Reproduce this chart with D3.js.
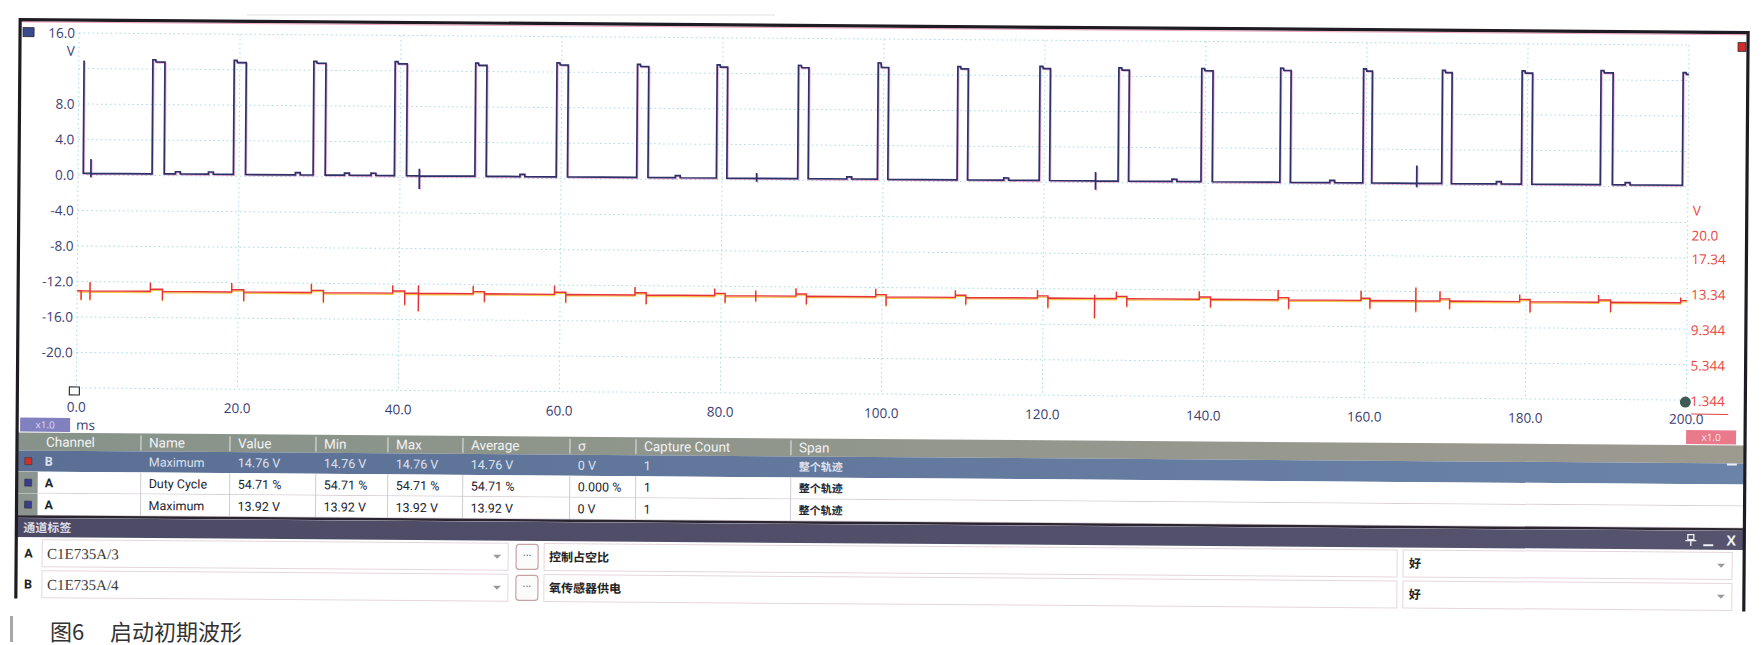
<!DOCTYPE html>
<html><head><meta charset="utf-8">
<script src="https://cdn.jsdelivr.net/npm/d3@7"></script>
<style>body{margin:0;background:#fff}svg{display:block}</style>
</head><body>
<svg id="c" width="1761" height="645"></svg>
<script>
// ---------------- data ----------------
const xTicks = [0,20,40,60,80,100,120,140,160,180,200];
const xTickLabels = ["0.0","20.0","40.0","60.0","80.0","100.0","120.0","140.0","160.0","180.0","200.0"];
const yGridA = [16,12,8,4,0,-4,-8,-12,-16,-20,-24];
const yLabelsA = [16,8,4,0,-4,-8,-12,-16,-20];
const yLabelsATxt = ["16.0","8.0","4.0","0.0","-4.0","-8.0","-12.0","-16.0","-20.0"];
const yLabelsB = [20.0,17.34,13.34,9.344,5.344,1.344];
const yLabelsBTxt = ["20.0","17.34","13.34","9.344","5.344","1.344"];

// channel A (control duty cycle), ms / V
const aStart = 0.55, aFirstFall = 0.65, aEnd = 200;
const lowA = 0.2;
const riseA = [9.2,19.3,29.2,39.3,49.3,59.4,69.4,79.3,89.4,99.3,109.2,119.4,129.2,139.5,149.3,159.6,169.4,179.3,189.1,199.3];
const fallA = [10.7,20.8,30.7,40.8,50.7,60.8,70.8,80.6,90.7,100.6,110.5,120.7,130.5,140.9,150.6,160.7,170.6,180.6,190.6];
const highA = [12.8,12.8,12.8,12.8,12.7,12.8,12.7,12.7,12.7,12.8,12.7,12.8,12.7,12.7,12.8,12.8,12.7,12.7,12.8,12.7];
const peakA = [13.05,13.05,13.0,13.05,12.95,13.05,12.95,12.95,12.95,13.3,12.95,13.05,12.95,12.95,13.05,13.05,12.95,12.95,13.05,12.9];
const glitchTA = [1.6,42.4,84.3,126.4,166.3];
const glitchUpA = [1.6,0.8,0.6,1.0,2.0];
const glitchDnA = [-0.45,-1.5,-0.4,-1.0,-0.45];
const bumpTA = [12.4,16.5,27.3,33.4,36.7,55.2,74.5,95.8,115.3,136.2,155.8,176.5,192.5];

// channel B (sensor supply), ms / V
const baseB = 12.3;
const plateauB = 0.25;
const riseSpikeB = [1.0,1.0,1.0,0.9,0.9,1.0,0.9,0.8,0.9,0.9,0.8,0.9,0.8,0.9,1.1,1.1,1.1,0.8,0.8,0.6];
const fallSpikeB = [-1.0,-1.0,-1.1,-1.3,-0.9,-0.9,-1.0,-0.8,-0.9,-1.0,-0.8,-1.1,-0.9,-0.9,-1.0,-0.9,-0.9,-1.2,-1.1];
const glitchTB = [0.5,1.6,42.4,84.3,126.4,166.3];
const glitchUpB = [0.0,1.0,0.9,0.6,0.4,1.5];
const glitchDnB = [-1.0,-1.0,-2.0,-0.6,-2.2,-1.2];

// measurement table
const tableCols = ["Channel","Name","Value","Min","Max","Average","σ","Capture Count","Span"];
const tableRows = [
  ["B","Maximum","14.76 V","14.76 V","14.76 V","14.76 V","0 V","1","整个轨迹"],
  ["A","Duty Cycle","54.71 %","54.71 %","54.71 %","54.71 %","0.000 %","1","整个轨迹"],
  ["A","Maximum","13.92 V","13.92 V","13.92 V","13.92 V","0 V","1","整个轨迹"]
];
const rowChannelColor = ["#d0302c","#3a3c8c","#3a3c8c"];
const panelTitle = "通道标签";
const chanLetters = ["A","B"];
const chanIds = ["C1E735A/3","C1E735A/4"];
const chanDesc = ["控制占空比","氧传感器供电"];
const chanQuality = ["好","好"];
const caption1 = "图6", caption2 = "启动初期波形";

// ---------------- drawing ----------------
const svg = d3.select("#c");
const g = svg.append("g").attr("transform","rotate(0.43,78,175)");
const x = d3.scaleLinear().domain([0,200]).range([78,1688]);
const yA = d3.scaleLinear().domain([-24,16]).range([388,33]);
const yB = d3.scaleLinear().domain([1.344,20]).range([yA(-24),yA(-5.344)]);
const navy = "#3b3d72";
const numFont = "'Open Sans', 'Noto Sans', sans-serif";

// faint line above frame
svg.append("line").attr("x1",247).attr("x2",775).attr("y1",15).attr("y2",15).attr("stroke","#e2dfe6").attr("stroke-width",1);

// grid
g.append("g").selectAll("line").data(yGridA).join("line")
  .attr("x1",x(0)).attr("x2",x(200)).attr("y1",d=>yA(d)).attr("y2",d=>yA(d))
  .attr("stroke","#a6dbe0").attr("stroke-width",1).attr("stroke-dasharray","1.5,3");
g.append("g").selectAll("line").data(xTicks).join("line")
  .attr("x1",d=>x(d)).attr("x2",d=>x(d)).attr("y1",yA(16)).attr("y2",yA(-24))
  .attr("stroke","#a6dbe0").attr("stroke-width",1).attr("stroke-dasharray","1.5,3");

// left axis labels
g.append("g").selectAll("text").data(yLabelsA).join("text")
  .attr("x",74).attr("y",d=>yA(d)).attr("dy","0.36em").attr("text-anchor","end")
  .attr("font-family",numFont).attr("font-size",13.5).attr("fill",navy)
  .text((d,i)=>yLabelsATxt[i]);
g.append("text").attr("x",74).attr("y",yA(16)+18).attr("dy","0.36em").attr("text-anchor","end")
  .attr("font-family",numFont).attr("font-size",13.5).attr("fill",navy).text("V");

// right axis labels (channel B)
g.append("g").selectAll("text").data(yLabelsB).join("text")
  .attr("x",1692).attr("y",d=>yB(d)+1).attr("dy","0.36em")
  .attr("font-family",numFont).attr("font-size",13.5).attr("fill","#e8463e")
  .text((d,i)=>yLabelsBTxt[i]);
g.append("text").attr("x",1693).attr("y",yB(20)-24).attr("dy","0.36em")
  .attr("font-family",numFont).attr("font-size",13.5).attr("fill","#e8463e").text("V");

// x labels
g.append("g").selectAll("text").data(xTicks).join("text")
  .attr("x",d=>x(d)).attr("y",407).attr("dy","0.36em").attr("text-anchor","middle")
  .attr("font-family",numFont).attr("font-size",13.5).attr("fill",navy)
  .text((d,i)=>xTickLabels[i]);

// ----- channel A trace -----
const featA = [];
riseA.forEach((t,i)=>featA.push({t, k:"p", i}));
glitchTA.forEach((t,j)=>featA.push({t, k:"g", j}));
bumpTA.forEach((t,j)=>featA.push({t, k:"b", j}));
featA.sort((a,b)=>a.t-b.t);
const ptsA = [[aStart,highA[0]],[aFirstFall,highA[0]],[aFirstFall,lowA]];
featA.forEach(f=>{
  if (f.k==="g") {
    ptsA.push([f.t,lowA],[f.t,lowA+glitchUpA[f.j]],[f.t,lowA+glitchDnA[f.j]],[f.t,lowA]);
  } else if (f.k==="b") {
    ptsA.push([f.t-0.3,lowA],[f.t-0.3,lowA+0.25],[f.t+0.3,lowA+0.25],[f.t+0.3,lowA]);
  } else {
    const i=f.i, r=riseA[i];
    ptsA.push([r,lowA],[r,peakA[i]],[r+0.35,peakA[i]],[r+0.4,highA[i]]);
    if (i<fallA.length) ptsA.push([fallA[i],highA[i]],[fallA[i],lowA]);
    else ptsA.push([aEnd,highA[i]]);
  }
});
const lineA = d3.line().x(d=>x(d[0])).y(d=>yA(d[1]));
g.append("path").attr("d",lineA(ptsA)).attr("fill","none").attr("stroke","#d65aa8")
  .attr("stroke-width",1.4).attr("opacity",0.45).attr("transform","translate(1,1)");
g.append("path").attr("d",lineA(ptsA)).attr("fill","none").attr("stroke","#2e3068").attr("stroke-width",1.7);

// ----- channel B trace -----
const featB = [];
riseA.forEach((t,i)=>featB.push({t:t-0.1, k:"p", i}));
glitchTB.forEach((t,j)=>featB.push({t, k:"g", j}));
featB.sort((a,b)=>a.t-b.t);
const ptsB = [[0,baseB]];
featB.forEach(f=>{
  if (f.k==="g") {
    ptsB.push([f.t,baseB],[f.t,baseB+glitchUpB[f.j]],[f.t,baseB+glitchDnB[f.j]],[f.t,baseB]);
  } else {
    const i=f.i, r=f.t;
    ptsB.push([r,baseB],[r,baseB+riseSpikeB[i]],[r,baseB+plateauB]);
    if (i<fallSpikeB.length) {
      const tf=fallA[i]-0.1;
      ptsB.push([tf,baseB+plateauB],[tf,baseB+fallSpikeB[i]],[tf,baseB]);
    } else ptsB.push([200,baseB+plateauB]);
  }
});
const lineB = d3.line().x(d=>x(d[0])).y(d=>yB(d[1]));
g.append("path").attr("d",lineB(ptsB)).attr("fill","none").attr("stroke","#f3c64a")
  .attr("stroke-width",1.3).attr("transform","translate(0,1.2)");
g.append("path").attr("d",lineB(ptsB)).attr("fill","none").attr("stroke","#e5333a").attr("stroke-width",1.4);

// markers
g.append("rect").attr("x",x(0)-7).attr("y",yA(-24)-1).attr("width",10).attr("height",8)
  .attr("fill","#fff").attr("stroke","#333").attr("stroke-width",1.2);
g.append("circle").attr("cx",x(200)-1).attr("cy",yB(1.344)+2).attr("r",5.5).attr("fill","#3d5c55");
g.append("line").attr("x1",1693).attr("x2",1730).attr("y1",402).attr("y2",402).attr("stroke","#e04444").attr("stroke-width",1);

// corner squares
g.append("rect").attr("x",22).attr("y",28).attr("width",11).attr("height",9).attr("fill","#3b4a8f").attr("stroke","#222").attr("stroke-width",0.8);
g.append("rect").attr("x",1737).attr("y",30).attr("width",8).attr("height",9).attr("fill","#d42a2a").attr("stroke","#333").attr("stroke-width",0.8);

// zoom boxes & unit
g.append("rect").attr("x",22).attr("y",418).attr("width",50).attr("height",14).attr("fill","#8181c0");
g.append("text").attr("x",47).attr("y",425).attr("dy","0.36em").attr("text-anchor","middle")
  .attr("font-family",numFont).attr("font-size",10).attr("fill","#dcdcf2").text("x1.0");
g.append("text").attr("x",78).attr("y",425).attr("dy","0.36em")
  .attr("font-family",numFont).attr("font-size",13.5).attr("fill",navy).text("ms");
g.append("rect").attr("x",1688).attr("y",418).attr("width",50).attr("height",14).attr("fill","#e87a8c");
g.append("text").attr("x",1713).attr("y",425).attr("dy","0.36em").attr("text-anchor","middle")
  .attr("font-family",numFont).attr("font-size",10).attr("fill","#fbe6ea").text("x1.0");

// ----- measurement table -----
const defs = svg.append("defs");
const hg = defs.append("linearGradient").attr("id","hdr");
hg.append("stop").attr("offset","0%").attr("stop-color","#879389");
hg.append("stop").attr("offset","100%").attr("stop-color","#9d9a90");
const bg = defs.append("linearGradient").attr("id","sel");
bg.append("stop").attr("offset","0%").attr("stop-color","#5b6f94");
bg.append("stop").attr("offset","100%").attr("stop-color","#6a83a6");
const tg = defs.append("linearGradient").attr("id","ttl");
tg.append("stop").attr("offset","0%").attr("stop-color","#4d4a66");
tg.append("stop").attr("offset","100%").attr("stop-color","#56536e");

const colX = [19,143,232,318,390,465,572,638,793];
const rowTop = [433,451,472,494], rowH = [18,21,22,22];
const tL = 19, tR = 1746;
g.append("rect").attr("x",tL).attr("y",rowTop[0]).attr("width",tR-tL).attr("height",rowH[0]).attr("fill","url(#hdr)");
g.append("rect").attr("x",tL).attr("y",rowTop[1]).attr("width",tR-tL).attr("height",rowH[1]).attr("fill","url(#sel)");
[2,3].forEach(r=>{
  g.append("rect").attr("x",tL).attr("y",rowTop[r]).attr("width",tR-tL).attr("height",rowH[r]).attr("fill","#fff");
  g.append("rect").attr("x",tL).attr("y",rowTop[r]).attr("width",21).attr("height",rowH[r]).attr("fill","#8c9590");
  g.append("line").attr("x1",40).attr("x2",tR).attr("y1",rowTop[r]+rowH[r]-0.5).attr("y2",rowTop[r]+rowH[r]-0.5).attr("stroke","#d8d0d6");
});
// separators
colX.slice(1).forEach(cx=>{
  g.append("line").attr("x1",cx).attr("x2",cx).attr("y1",rowTop[0]+2).attr("y2",rowTop[0]+rowH[0]-1).attr("stroke","#e6e6ea").attr("stroke-width",1);
  g.append("line").attr("x1",cx).attr("x2",cx).attr("y1",rowTop[2]).attr("y2",rowTop[3]+rowH[3]).attr("stroke","#d0cdd2").attr("stroke-width",1);
});
g.append("g").selectAll("text").data(tableCols).join("text")
  .attr("x",(d,i)=>i===0?48:colX[i]+8).attr("y",rowTop[0]+rowH[0]/2).attr("dy","0.36em")
  .attr("font-family","Roboto, 'Open Sans', sans-serif").attr("font-size",13.5).attr("fill","#f2f2f6")
  .text(d=>d);
tableRows.forEach((row,r)=>{
  const cy = rowTop[r+1]+rowH[r+1]/2;
  g.append("rect").attr("x",27).attr("y",cy-3.5).attr("width",7).attr("height",7)
    .attr("fill",rowChannelColor[r]).attr("stroke","#333").attr("stroke-width",0.6);
  g.append("g").selectAll("text").data(row).join("text")
    .attr("x",(d,i)=>i===0?47:colX[i]+8).attr("y",cy).attr("dy","0.36em")
    .attr("font-family",(d,i)=>i===8?"'Noto Sans CJK SC', sans-serif":"Roboto, 'Open Sans', sans-serif")
    .attr("font-size",(d,i)=>i===8?11:12.5).attr("font-weight",(d,i)=>i===8||i===0?700:400)
    .attr("fill",r===0?"#dde2ee":"#23232e")
    .text(d=>d);
});
// collapse dash
g.append("line").attr("x1",1729).attr("x2",1739).attr("y1",452).attr("y2",452).attr("stroke","#f0f0f4").attr("stroke-width",2);
// dark line at table bottom
g.append("line").attr("x1",tL).attr("x2",tR).attr("y1",517).attr("y2",517).attr("stroke","#2a2430").attr("stroke-width",2.5);

// ----- channel label panel -----
g.append("rect").attr("x",tL).attr("y",518.5).attr("width",tR-tL).attr("height",19).attr("fill","url(#ttl)");
g.append("text").attr("x",26).attr("y",528).attr("dy","0.36em")
  .attr("font-family","'Noto Sans CJK SC', sans-serif").attr("font-size",12).attr("font-weight",700)
  .attr("fill","#dcdbe8").text(panelTitle);
// title icons
g.append("rect").attr("x",1690.5).attr("y",522.5).attr("width",6).attr("height",5).attr("fill","none").attr("stroke","#f2f2f2").attr("stroke-width",1.3);
g.append("line").attr("x1",1688).attr("x2",1699).attr("y1",528.5).attr("y2",528.5).attr("stroke","#f2f2f2").attr("stroke-width",1.3);
g.append("line").attr("x1",1693.5).attr("x2",1693.5).attr("y1",528.5).attr("y2",534).attr("stroke","#f2f2f2").attr("stroke-width",1.3);
g.append("line").attr("x1",1706).attr("x2",1716).attr("y1",533).attr("y2",533).attr("stroke","#f2f2f2").attr("stroke-width",2);
g.append("text").attr("x",1734).attr("y",528).attr("dy","0.36em").attr("text-anchor","middle")
  .attr("font-family","'Open Sans', sans-serif").attr("font-size",14).attr("font-weight",700).attr("fill","#f2f2f2").text("X");

const chTop = [540,571], chH = 27;
chanLetters.forEach((c,i)=>{
  const y0 = chTop[i], cy = y0+chH/2;
  g.append("text").attr("x",27).attr("y",cy).attr("dy","0.36em")
    .attr("font-family","Roboto, sans-serif").attr("font-size",12.5).attr("font-weight",700).attr("fill","#222").text(c);
  const box = (x0,x1)=>g.append("rect").attr("x",x0).attr("y",y0).attr("width",x1-x0).attr("height",chH)
      .attr("fill","#fff").attr("stroke","#e6d6de").attr("stroke-width",1);
  box(45,511); box(547,1400); box(1406,1735);
  g.append("text").attr("x",50).attr("y",cy).attr("dy","0.36em")
    .attr("font-family","'Liberation Serif', serif").attr("font-size",15).attr("fill","#3a3a3a").text(chanIds[i]);
  g.append("path").attr("d",`M496,${cy-2}h8l-4,4z`).attr("fill","#9a9a9a");
  g.append("rect").attr("x",519).attr("y",y0+1).attr("width",22).attr("height",chH-2).attr("rx",3)
    .attr("fill","#fbfbfb").attr("stroke","#c9a2a6").attr("stroke-width",1.2);
  g.append("text").attr("x",530).attr("y",cy).attr("dy","0.2em").attr("text-anchor","middle")
    .attr("font-family","'Open Sans', sans-serif").attr("font-size",11).attr("fill","#6a6a6a").text("···");
  g.append("text").attr("x",552).attr("y",cy).attr("dy","0.36em")
    .attr("font-family","'Noto Sans CJK SC', sans-serif").attr("font-size",12).attr("font-weight",700).attr("fill","#222").text(chanDesc[i]);
  g.append("text").attr("x",1412).attr("y",cy).attr("dy","0.36em")
    .attr("font-family","'Noto Sans CJK SC', sans-serif").attr("font-size",12).attr("font-weight",700).attr("fill","#222").text(chanQuality[i]);
  g.append("path").attr("d",`M1720,${cy-2}h8l-4,4z`).attr("fill","#9a9a9a");
});

// window frame
g.append("path").attr("d","M19,599 V20 H1747 V599").attr("fill","none").attr("stroke","#1e1c22").attr("stroke-width",3.2);
g.append("line").attr("x1",21).attr("x2",1745).attr("y1",22.3).attr("y2",22.3).attr("stroke","#e0608a").attr("stroke-width",0.8).attr("opacity",0.7);

// caption (not rotated)
svg.append("rect").attr("x",10).attr("y",616).attr("width",3).attr("height",26).attr("fill","#a8a8a8");
svg.append("text").attr("x",50).attr("y",632).attr("dy","0.36em").attr("font-family","'Noto Sans CJK SC', sans-serif")
  .attr("font-size",22).attr("fill","#333").text(caption1);
svg.append("text").attr("x",110).attr("y",632).attr("dy","0.36em").attr("font-family","'Noto Sans CJK SC', sans-serif")
  .attr("font-size",22).attr("fill","#333").text(caption2);
</script>
</body></html>
